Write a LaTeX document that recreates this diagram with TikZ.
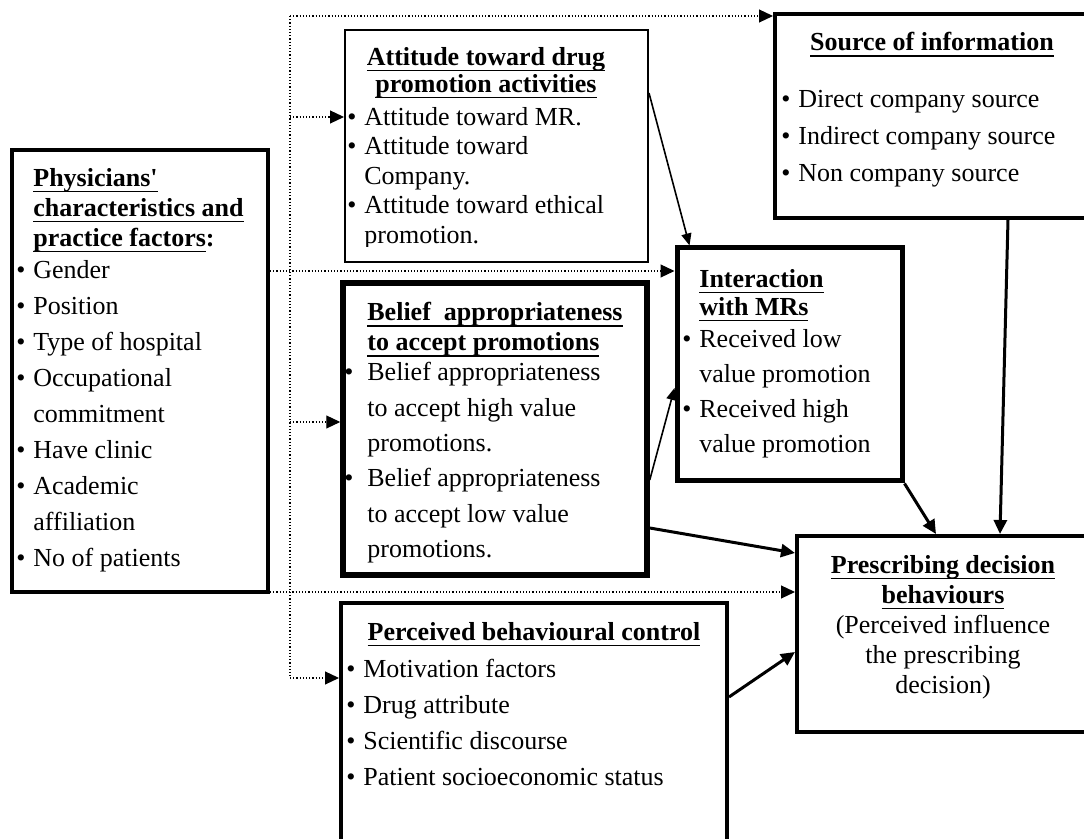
\documentclass[tikz,border=0pt]{standalone}
\usepackage{fontspec}
\setmainfont{Liberation Serif}
\usetikzlibrary{arrows.meta,fit}
\newsavebox{\hdbox}
\newcommand{\hd}[1]{\sbox{\hdbox}{\textbf{#1}}\rlap{\rule[-3pt]{\wd\hdbox}{0.9pt}}\usebox{\hdbox}}
\newcommand{\itm}[1][8.5pt]{\makebox[#1][l]{\textbullet}}
\newcommand{\cont}[1][8.5pt]{\hspace*{#1}}
\tikzset{
  box/.style={draw, inner sep=0pt, line width=2pt},
  txt/.style={inner sep=0pt, anchor=north west, align=left, font=\fontsize{13}{#1}\selectfont},
  dotline/.style={densely dotted, line width=0.6pt},
  dotarrow/.style={dotline, -{Triangle[length=7pt,width=6.5pt]}},
  thinarrow/.style={line width=0.8pt, -{Triangle[length=6pt,width=5pt]}},
  thickarrow/.style={line width=1.5pt, -{Triangle[length=7pt,width=6.5pt]}}
}
\begin{document}
\begin{tikzpicture}[x=0.5pt,y=-0.5pt]
\useasboundingbox (0,0) rectangle (1084,839);
% boxes
\node[box, fit={(12,150) (268,592)}] (phys) {};
\node[box, line width=1pt, fit={(345,30) (648,262)}] (attit) {};
\node[box, line width=2.75pt, fit={(343,283) (647,575)}] (belief) {};
\node[box, line width=2.5pt, fit={(677,248) (902,481)}] (inter) {};
\node[box, fit={(775,14) (1110,218)}] (source) {};
\node[box, fit={(797,536) (1110,732)}] (presc) {};
\node[box, fit={(341,603) (727,880)}] (pbc) {};
% texts
\node[txt=18pt] (physT) at (16,168) {\cont\hd{Physicians\textquotesingle}\\[-3pt]
  \cont\hd{characteristics and}\\[-3pt]
  \cont\hd{practice factors}\textbf{:}\\[-2pt]
  \itm Gender\\ \itm Position\\ \itm Type of hospital\\ \itm Occupational\\
  \cont commitment\\ \itm Have clinic\\ \itm Academic\\ \cont affiliation\\
  \itm No of patients};
\node[txt=13.5pt, anchor=north, align=center] (attitH) at (486,47)
  {\hd{Attitude toward drug}\\ \hd{promotion activities}};
\begin{scope}
\clip (attit.north west) rectangle ([yshift=8pt]attit.south east);
\node[txt=14.75pt] (attitT) at (347,107) {\itm Attitude toward MR.\\
  \itm Attitude toward\\ \cont Company.\\ \itm Attitude toward ethical\\
  \cont promotion.};
\end{scope}
\node[txt=17.7pt] (beliefT) at (344,302) {\cont[11.5pt]\hd{Belief~~appropriateness}\\[-2.7pt]
  \cont[11.5pt]\hd{to accept promotions}\\[-2.7pt]
  \itm[11.5pt]Belief appropriateness\\ \cont[11.5pt]to accept high value\\
  \cont[11.5pt]promotions.\\ \itm[11.5pt]Belief appropriateness\\
  \cont[11.5pt]to accept low value\\ \cont[11.5pt]promotions.};
\node[txt=17.5pt] (interT) at (682,269) {\cont\hd{Interaction}\\[-3.5pt]
  \cont\hd{with MRs}\\[-1.5pt]
  \itm Received low\\ \cont value promotion\\ \itm Received high\\
  \cont value promotion};
\node[txt=18pt, anchor=north, align=center] (sourceH) at (932,32) {\hd{Source of information}};
\node[txt=18.5pt] (sourceT) at (781,90) {\itm Direct company source\\
  \itm Indirect company source\\ \itm Non company source};
\node[txt=15pt, anchor=north, align=center] (prescT) at (943,555)
  {\hd{Prescribing decision}\\ \hd{behaviours}\\ (Perceived influence\\
  the prescribing\\ decision)};
\node[txt=18pt, anchor=north, align=center] (pbcH) at (534,622) {\hd{Perceived behavioural control}};
\node[txt=18pt] (pbcT) at (346,659) {\itm Motivation factors\\ \itm Drug attribute\\
  \itm Scientific discourse\\ \itm Patient socioeconomic status};
% dotted links
\coordinate (busT) at (290,16);
\coordinate (busB) at (290,678);
\coordinate (aIn) at ([yshift=14.5pt]attit.west);
\coordinate (bIn) at ([yshift=3.5pt]belief.west);
\coordinate (cIn) at ([yshift=31.75pt]pbc.west);
\coordinate (iIn) at ([yshift=46.75pt]inter.west);
\coordinate (dIn) at ([yshift=21pt]presc.west);
\draw[dotline] (busT) -- (busB);
\draw[dotarrow] (busT) -- (source.west |- busT);
\draw[dotarrow] (busT |- aIn) -- (aIn);
\draw[dotarrow] (busT |- bIn) -- (bIn);
\draw[dotarrow] (busB) -- (cIn);
\draw[dotarrow] (phys.east |- iIn) -- (iIn);
\draw[dotarrow] (phys.east |- dIn) -- (dIn);
% solid links
\draw[thinarrow] ([yshift=26.5pt]attit.east) -- ([xshift=7.5pt]inter.north west);
\draw[thinarrow] ([yshift=-25.5pt]belief.east) -- ([yshift=-11.75pt]inter.west);
\draw[thickarrow] ([yshift=-49.5pt]belief.east) -- ([yshift=40.5pt]presc.west);
\draw[thickarrow] (inter.south east) -- ([xshift=70.5pt]presc.north west);
\draw[thickarrow] ([xshift=117.5pt]source.south west) -- ([xshift=102.5pt]presc.north west);
\draw[thickarrow] ([yshift=22.25pt]pbc.east) -- ([yshift=-9pt]presc.west);
\end{tikzpicture}
\end{document}
